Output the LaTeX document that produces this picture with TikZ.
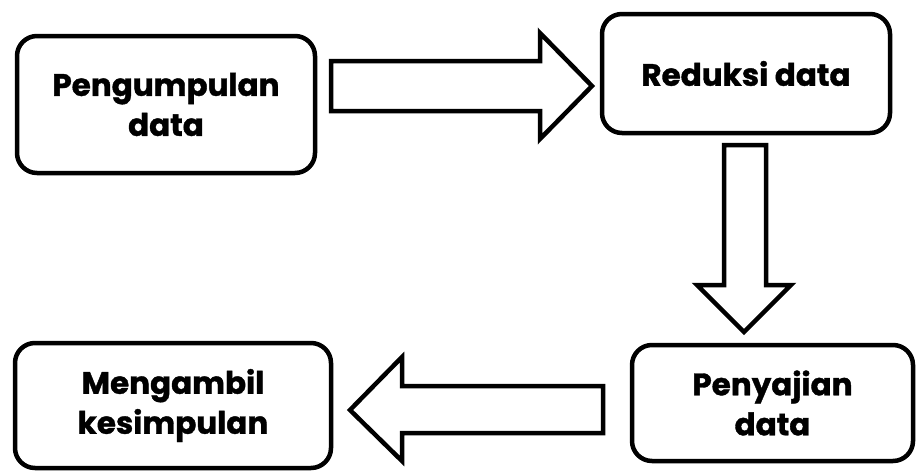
\documentclass[tikz,border=0pt]{standalone}
\usepackage{fontspec}
\setmainfont{Poppins}[BoldFeatures={FakeBold=1.2}]
\begin{document}
\begin{tikzpicture}[x=1pt, y=-1pt,
    step box/.style ={draw, line width=4.5pt, rounded corners=20pt, align=center,
        font=\bfseries\fontsize{31}{40}\selectfont, inner sep=0pt},
    big arrow/.style ={draw, line width=4.5pt, fill=white, line join=miter}]
    \useasboundingbox (0,0) rectangle (917,471);
    \node[step box, minimum width=298pt, minimum height=137pt] (kumpul) at (166,104.5) {Pengumpulan\\data};
    \node[step box, minimum width=288pt, minimum height=119pt] (reduksi) at (746,73.5) {Reduksi data};
    \node[step box, minimum width=281pt, minimum height=116pt] (sajian) at (772.5,403) {Penyajian\\data};
    \node[step box, minimum width=316pt, minimum height=125pt] (simpul) at (173,405.5) {Mengambil\\kesimpulan};
    % block arrows
    \draw[big arrow] (331,61) -- (540,61) -- (540,33) -- (592,86) -- (540,139) -- (540,111) -- (331,111) -- cycle;
    \draw[big arrow] (724,145) -- (766,145) -- (766,285) -- (791,285) -- (744,332) -- (697,285) -- (724,285) -- cycle;
    \draw[big arrow] (603,386) -- (402,386) -- (402,357) -- (350,410) -- (402,461) -- (402,433) -- (603,433) -- cycle;
\end{tikzpicture}
\end{document}
